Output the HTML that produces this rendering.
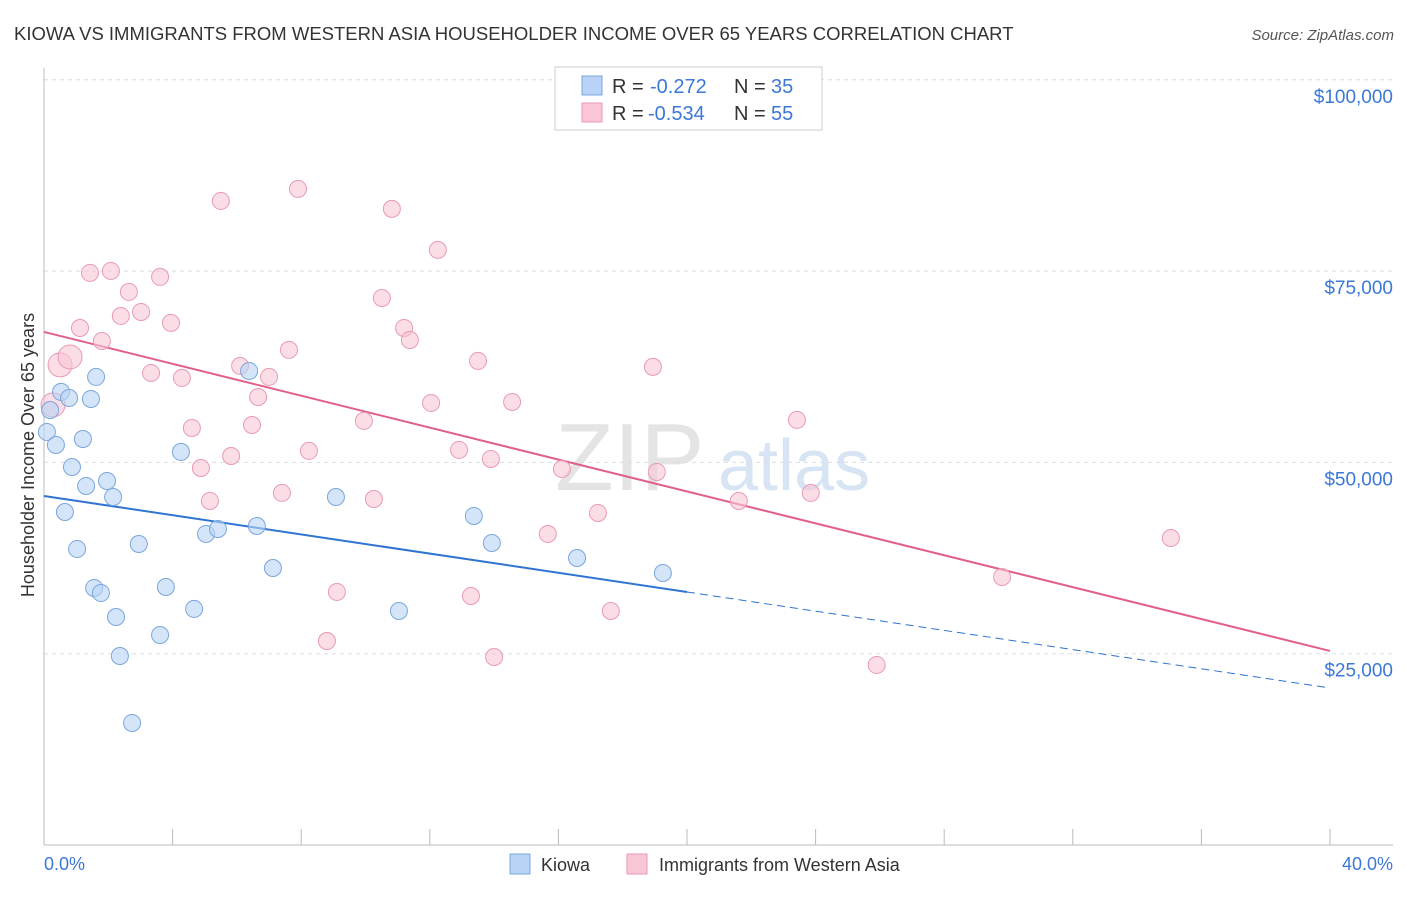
<!DOCTYPE html>
<html><head><meta charset="utf-8"><style>
body{margin:0;background:#fff;font-family:"Liberation Sans",sans-serif;}
svg text{font-family:"Liberation Sans",sans-serif;}
</style></head><body>
<svg id="chart" width="1406" height="892" xmlns="http://www.w3.org/2000/svg">
<text x="14" y="40" font-size="18.5" fill="#333">KIOWA VS IMMIGRANTS FROM WESTERN ASIA HOUSEHOLDER INCOME OVER 65 YEARS CORRELATION CHART</text>
<text x="1394" y="40" font-size="15" fill="#555" font-style="italic" text-anchor="end">Source: ZipAtlas.com</text>
<g><text x="555" y="490" font-size="96" fill="#e4e4e4" font-family="Liberation Serif">ZIP</text><text x="718" y="490" font-size="72" fill="#d6e4f3">atlas</text></g>
<g id="grid"></g><g id="axes"></g><g id="trends"></g><g id="points"></g>
<text transform="translate(34,455) rotate(-90)" font-size="18" fill="#333" text-anchor="middle">Householder Income Over 65 years</text>
<text x="44" y="870" font-size="18" fill="#3b78d8">0.0%</text>
<text x="1393" y="870" font-size="18" fill="#3b78d8" text-anchor="end">40.0%</text>
<g>
<rect x="555" y="67" width="267" height="63" fill="#fff" stroke="#ccc"/>
<rect x="582" y="76" width="20" height="19" fill="#b8d3f5" stroke="#7aa6dd"/>
<rect x="582" y="103" width="20" height="19" fill="#f9c6d5" stroke="#e99ab3"/>
<g font-size="20">
<text x="612" y="93" fill="#333">R =</text><text x="650" y="93" fill="#3b78d8">-0.272</text>
<text x="734" y="93" fill="#333">N =</text><text x="771" y="93" fill="#3b78d8">35</text></g>
<g font-size="20">
<text x="612" y="120" fill="#333">R =</text><text x="648" y="120" fill="#3b78d8">-0.534</text>
<text x="734" y="120" fill="#333">N =</text><text x="771" y="120" fill="#3b78d8">55</text></g>
</g>
<g>
<rect x="510" y="854" width="20" height="20" fill="#b8d3f5" stroke="#7aa6dd"/>
<text x="541" y="871" font-size="18" fill="#333">Kiowa</text>
<rect x="627" y="854" width="20" height="20" fill="#f9c6d5" stroke="#e99ab3"/>
<text x="659" y="871" font-size="18" fill="#333">Immigrants from Western Asia</text>
</g>
</svg>
<script>
const yTicks=[25000,50000,75000,100000];
const yTickLabels=["$25,000","$50,000","$75,000","$100,000"];
const xTicks=[0,4,8,12,16,20,24,28,32,36,40];
const kiowaX=[0.09,0.37,0.19,0.53,0.78,1.62,1.46,1.21,0.87,1.31,1.96,2.15,0.65,1.03,1.56,1.77,2.24,2.36,2.74,2.95,3.79,3.61,4.67,4.26,5.04,5.41,6.62,6.38,7.12,9.08,11.04,13.37,13.93,16.58,19.25];
const kiowaY=[53980,52280,56850,59210,58420,61170,58290,53060,49400,46920,47570,45480,43520,38690,33590,32940,29800,24700,15950,39340,33720,27450,30850,51370,40650,41300,41690,61950,36200,45480,30580,43000,39470,37510,35550];
const immX=[0.28,0.5,0.81,1.12,1.43,2.08,1.8,2.64,2.39,3.02,3.61,3.95,3.33,4.29,4.6,4.88,5.16,5.5,5.82,6.1,6.47,6.66,7.0,7.4,7.62,7.9,8.24,9.11,8.8,9.95,10.26,10.51,10.82,11.2,11.38,12.04,12.25,12.91,13.28,13.5,13.9,14.0,14.56,15.67,16.11,17.23,17.63,18.94,19.06,21.61,23.42,23.85,25.9,29.8,35.05];
const immY=[57510,62740,63780,67570,74760,75020,65870,72280,69140,69660,74240,68230,61690,61040,54500,49270,44960,84170,50840,62610,54890,58550,61170,46010,64700,85740,51500,33070,26660,55420,45220,71490,83130,67570,66000,57770,77770,51630,32540,63260,50450,24570,57900,40650,49140,43390,30580,62480,48750,44960,55550,46010,23530,35030,40120];
const kiowaTrend=[45610,20520];
const immTrend=[67050,25360];
const NS="http://www.w3.org/2000/svg";
const sx=v=>44+v/40*1286;
const sy=v=>845-v/25000*191.3;
function mk(tag,attrs,parent){const e=document.createElementNS(NS,tag);for(const k in attrs)e.setAttribute(k,attrs[k]);parent.appendChild(e);return e;}
const grid=document.getElementById('grid'),axes=document.getElementById('axes');
yTicks.forEach((t,i)=>{
 const l=mk('line',{x1:44,x2:1393,y1:sy(t),y2:sy(t),stroke:'#ddd','stroke-dasharray':'4,4'},grid);
 
 
 const tx=mk('text',{x:1393,y:sy(t)+23,'font-size':19,fill:'#3b78d8','text-anchor':'end'},grid);
 tx.textContent=yTickLabels[i];
 
 
});
const ya=mk('line',{x1:44,x2:44,y1:68,y2:845,stroke:'#bbb'},axes);


const xa=mk('line',{x1:44,x2:1393,y1:845,y2:845,stroke:'#bbb'},axes);


xTicks.forEach(t=>{
 const l=mk('line',{x1:sx(t),x2:sx(t),y1:829,y2:845,stroke:'#bbb'},axes);
 
 
});
const tr=document.getElementById('trends');
const b1=mk('line',{x1:sx(0),y1:sy(kiowaTrend[0]),x2:sx(20),y2:sy((kiowaTrend[0]+kiowaTrend[1])/2),stroke:'#2f74d0','stroke-width':2},tr);


const b2=mk('line',{x1:sx(20),y1:sy((kiowaTrend[0]+kiowaTrend[1])/2),x2:sx(40),y2:sy(kiowaTrend[1]),stroke:'#2f74d0','stroke-width':1,'stroke-dasharray':'8,5'},tr);


const p1=mk('line',{x1:sx(0),y1:sy(immTrend[0]),x2:sx(40),y2:sy(immTrend[1]),stroke:'#e0608a','stroke-width':2},tr);


const pts=document.getElementById('points');
immX.forEach((x,i)=>{
 const c=mk('circle',{cx:sx(x),cy:sy(immY[i]),r:(i<3?12:8.5),fill:'#f9c6d5','fill-opacity':0.6,stroke:'#e99ab3','stroke-width':1},pts);
 
 
});
kiowaX.forEach((x,i)=>{
 const c=mk('circle',{cx:sx(x),cy:sy(kiowaY[i]),r:8.5,fill:'#b8d3f5','fill-opacity':0.6,stroke:'#7aa6dd','stroke-width':1},pts);
 
 
});
</script>
</body></html>
